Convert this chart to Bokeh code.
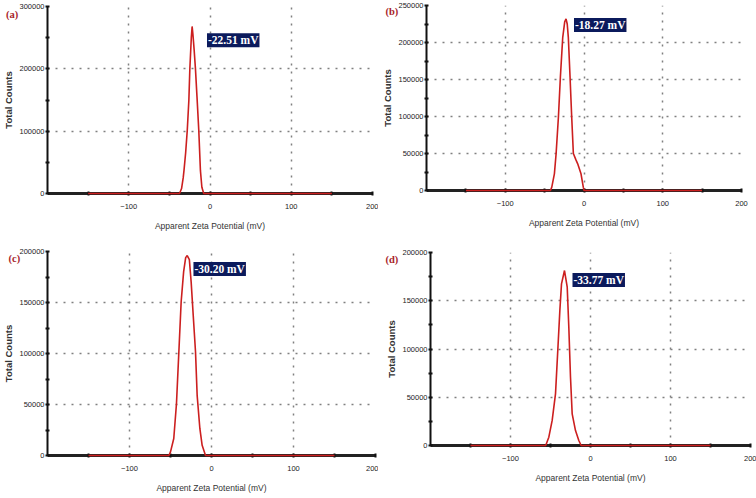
from bokeh.plotting import figure
from bokeh.layouts import column, row
from bokeh.models import FixedTicker, Label, Range1d, BasicTickFormatter
from bokeh.core.properties import value
from bokeh.embed import file_html
from bokeh.resources import INLINE

# ---- data ----
a_x = [-150, -37.5, -35, -33, -32, -30, -28, -26, -24.8, -23, -22, -21, -19.5, -17.9, -16, -13.8, -11.8, -10, -7.7, 150]
a_y = [0, 0, 8000, 25000, 37000, 65000, 101000, 150000, 200000, 250000, 268000, 255000, 230000, 200000, 155000, 101000, 37000, 10000, 0, 0]

b_x = [-150, -42.6, -40.9, -37.6, -35.4, -32.5, -30, -27, -24.5, -22.8, -21.3, -19.9, -17.7, -15.6, -13.5, -10.5, -8, -3.8, -0.9, 0, 150]
b_y = [0, 0, 4500, 22500, 50000, 99000, 153000, 207000, 228000, 232000, 225000, 207000, 153000, 99000, 50000, 42000, 36000, 22500, 4500, 0, 0]

c_x = [-150, -52, -50, -46, -42.7, -39.8, -37, -34, -31.5, -29.6, -27, -24.8, -22.3, -19.5, -17.5, -14.2, -11.4, -7.3, 150]
c_y = [0, 0, 3600, 16700, 51000, 101700, 150700, 180000, 194000, 196000, 192000, 170000, 137500, 101700, 59000, 26500, 10000, 0, 0]

d_x = [-150, -56, -52.1, -47.9, -43.75, -40.9, -38.3, -36.25, -32.5, -29.1, -27.1, -25, -22.9, -18.75, -14.6, -11.7, 150]
d_y = [0, 0, 8600, 26000, 53500, 98400, 140000, 167500, 181300, 164000, 122600, 70800, 32800, 15500, 5200, 0, 0]

panel_letters = ["(a)", "(b)", "(c)", "(d)"]
zeta_labels = ["-22.51 mV", "-18.27 mV", "-30.20 mV", "-33.77 mV"]
y_max = [300000, 250000, 200000, 200000]
y_step = [100000, 50000, 50000, 50000]
x_ticks = [-100, 0, 100, 200]
x_minor_ticks = [-150, -50, 50, 150]
x_title = "Apparent Zeta Potential (mV)"
y_title = "Total Counts"

RED = "#cc1f1f"
NAVY = "#0b1a5c"
LETTER = "#a8242a"
X0, X1 = -200, 200


def make_panel(xs, ys, ymax, ystep, letter, zeta, zeta_pos, letter_px, width, height, borders):
    bl, br, bt, bb = borders
    fw = width - bl - br
    fh = height - bt - bb
    p = figure(width=width, height=height, output_backend="svg", toolbar_location=None,
               x_range=Range1d(X0, X1), y_range=Range1d(0, ymax),
               min_border_left=bl, min_border_right=br, min_border_top=bt, min_border_bottom=bb,
               background_fill_color="white", border_fill_color="white")
    p.outline_line_color = None

    yt = list(range(0, ymax + 1, ystep))
    ym = [v + ystep // 2 for v in yt[:-1]]
    p.xaxis.ticker = FixedTicker(ticks=x_ticks, minor_ticks=x_minor_ticks)
    p.yaxis.ticker = FixedTicker(ticks=yt, minor_ticks=ym)
    p.yaxis.formatter = BasicTickFormatter(use_scientific=False)

    for ax in (p.xaxis, p.yaxis):
        ax.major_tick_in = 2
        ax.major_tick_out = 2
        ax.minor_tick_in = 2
        ax.minor_tick_out = 2
        ax.major_tick_line_width = 2
        ax.minor_tick_line_width = 2
        ax.major_tick_line_color = "#111111"
        ax.minor_tick_line_color = "#111111"
        ax.major_label_text_font = "Liberation Sans"
        ax.major_label_text_font_size = "7.5px"
        ax.major_label_text_color = "#222222"
        ax.axis_label_text_font = "Liberation Sans"
        ax.axis_label_text_color = "#333333"
        ax.axis_label_text_font_style = "normal"

    p.xaxis.axis_line_width = 3
    p.xaxis.axis_line_color = "#222222"
    p.yaxis.axis_line_width = 2
    p.yaxis.axis_line_color = "#111111"
    p.xaxis.major_label_standoff = 8
    p.xaxis.axis_label_standoff = 9
    p.xaxis.axis_label = x_title
    p.xaxis.axis_label_text_font_size = "8.5px"
    p.yaxis.major_label_standoff = 1
    p.yaxis.axis_label_standoff = 2
    p.yaxis.axis_label = y_title
    p.yaxis.axis_label_text_font_size = "9.5px"
    p.yaxis.axis_label_text_font_style = "bold"

    for g in (p.xgrid, p.ygrid):
        g.grid_line_color = "#808080"
        g.grid_line_dash = "2 6"
        g.grid_line_width = 1.5
    p.xgrid.ticker = FixedTicker(ticks=x_ticks)
    p.ygrid.ticker = FixedTicker(ticks=yt)

    p.line(xs, ys, line_color=RED, line_width=1.6, level="overlay")

    p.add_layout(Label(x=zeta_pos[0], y=zeta_pos[1], text=zeta, text_color="white",
                       text_font="Liberation Serif", text_font_style="bold", text_font_size="11.5px",
                       text_align="left", text_baseline="middle",
                       background_fill_color=NAVY, padding=1))
    # panel letter: pixel offset from the frame's top-left corner, converted to data units
    lx = X0 + letter_px[0] * (X1 - X0) / fw
    ly = ymax - letter_px[1] * ymax / fh
    p.text(x=[lx], y=[ly], text=[letter], text_color=LETTER, text_font=value("Liberation Serif"),
           text_font_style="bold", text_font_size="10.5px", text_align="left",
           text_baseline="middle", level="overlay")
    return p


pa = make_panel(a_x, a_y, y_max[0], y_step[0], panel_letters[0], zeta_labels[0],
                (-3.7, 246000), (-42, 8), 378, 245, (44, 6, 6, 52))
pb = make_panel(b_x, b_y, y_max[1], y_step[1], panel_letters[1], zeta_labels[1],
                (-12.7, 223600), (-41, 6), 378, 245, (48, 15, 5, 55))
pc = make_panel(c_x, c_y, y_max[2], y_step[2], panel_letters[2], zeta_labels[2],
                (-22, 182800), (-39, 7), 378, 253, (46, 3, 6, 43))
pd = make_panel(d_x, d_y, y_max[3], y_step[3], panel_letters[3], zeta_labels[3],
                (-22.5, 171500), (-45, 7), 378, 253, (52, 6, 7, 53))

layout = column(row(column(pa), column(pb), spacing=0),
                row(column(pc), column(pd), spacing=0), spacing=0)
open("out.html", "w").write(file_html(layout, INLINE))
